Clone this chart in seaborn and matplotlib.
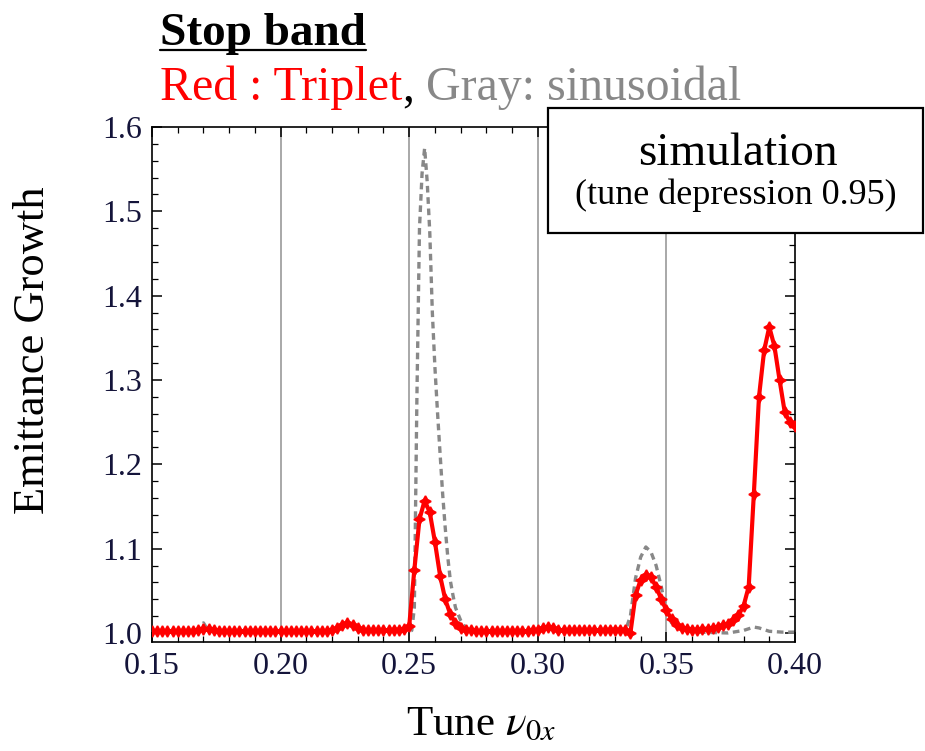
import numpy as np
import pandas as pd
import matplotlib
matplotlib.use('Agg')
import matplotlib.pyplot as plt
from matplotlib.lines import Line2D
from matplotlib.patches import Rectangle
from matplotlib.ticker import MultipleLocator, FormatStrFormatter
import seaborn as sns

# Triplet (red) - emittance growth sampled every 0.002 in tune
red_x = np.round(np.linspace(0.15, 0.40, 126), 3)
red_y = [1.002, 1.002, 1.002, 1.002, 1.002, 1.002, 1.002, 1.002, 1.002, 1.003,
         1.005, 1.005, 1.003, 1.002, 1.002, 1.002, 1.002, 1.002, 1.002, 1.002,
         1.002, 1.002, 1.002, 1.002, 1.002, 1.002, 1.002, 1.002, 1.002, 1.002,
         1.002, 1.002, 1.002, 1.002, 1.002, 1.003, 1.006, 1.010, 1.012, 1.009,
         1.006, 1.004, 1.003, 1.003, 1.003, 1.003, 1.003, 1.004, 1.004, 1.005,
         1.008, 1.075, 1.135, 1.157, 1.143, 1.108, 1.068, 1.040, 1.022, 1.012,
         1.006, 1.004, 1.003, 1.002, 1.002, 1.002, 1.002, 1.002, 1.002, 1.002,
         1.002, 1.002, 1.002, 1.002, 1.003, 1.004, 1.006, 1.007, 1.006, 1.004,
         1.003, 1.003, 1.003, 1.003, 1.003, 1.003, 1.003, 1.003, 1.003, 1.004,
         1.004, 1.004, 1.004, 1.000, 1.045, 1.063, 1.069, 1.066, 1.055, 1.040,
         1.027, 1.016, 1.010, 1.006, 1.005, 1.004, 1.004, 1.005, 1.005, 1.006,
         1.007, 1.009, 1.011, 1.015, 1.021, 1.032, 1.055, 1.165, 1.280, 1.335,
         1.363, 1.340, 1.300, 1.262, 1.250, 1.245]

# sinusoidal (gray dashed)
gray_x = [0.150, 0.160, 0.168, 0.170, 0.172, 0.180, 0.200, 0.220, 0.224, 0.226,
          0.228, 0.232, 0.240, 0.250, 0.251, 0.252, 0.253, 0.254, 0.255, 0.256,
          0.257, 0.258, 0.259, 0.260, 0.261, 0.262, 0.263, 0.264, 0.265, 0.266,
          0.267, 0.268, 0.270, 0.272, 0.276, 0.300, 0.304, 0.308, 0.320, 0.334,
          0.336, 0.338, 0.340, 0.342, 0.344, 0.346, 0.348, 0.350, 0.352, 0.356,
          0.362, 0.374, 0.380, 0.384, 0.386, 0.390, 0.395, 0.400]
gray_y = [1.001, 1.001, 1.001, 1.012, 1.002, 1.001, 1.001, 1.002, 1.008, 1.010,
          1.008, 1.003, 1.002, 1.002, 1.003, 1.030, 1.280, 1.480, 1.545, 1.575,
          1.535, 1.475, 1.380, 1.315, 1.262, 1.213, 1.165, 1.125, 1.090, 1.062,
          1.045, 1.030, 1.015, 1.006, 1.002, 1.002, 1.006, 1.003, 1.002, 1.002,
          1.020, 1.065, 1.090, 1.102, 1.096, 1.080, 1.055, 1.025, 1.012, 1.005,
          1.001, 1.000, 1.003, 1.007, 1.006, 1.002, 1.001, 1.001]

grid_x = [0.20, 0.25, 0.30, 0.35]

red_df = pd.DataFrame({'tune': red_x, 'growth': red_y})
gray_df = pd.DataFrame({'tune': gray_x, 'growth': gray_y})

sns.set_theme(style='ticks')
plt.rcParams['font.family'] = ['Liberation Serif', 'DejaVu Serif']
plt.rcParams['mathtext.fontset'] = 'stix'

fig = plt.figure(figsize=(9.25, 7.51), dpi=100)
ax = fig.add_axes([152/925, 1-642/751, 643/925, 515/751])

for gx in grid_x:
    ax.axvline(gx, color='#999999', lw=1.2, zorder=0)

sns.lineplot(data=gray_df, x='tune', y='growth', ax=ax, color='#888888', lw=2.4,
             linestyle=(0, (2, 1.4)), estimator=None, sort=False, zorder=2)
sns.lineplot(data=red_df, x='tune', y='growth', ax=ax, color='red', lw=3,
             marker=(4, 1, 0), markersize=8, markeredgecolor='red',
             markeredgewidth=1.2, estimator=None, sort=False, zorder=3)

ax.set_xlim(0.15, 0.40)
ax.set_ylim(0.9893, 1.6)
ax.xaxis.set_major_locator(MultipleLocator(0.05))
ax.xaxis.set_minor_locator(MultipleLocator(0.01))
ax.yaxis.set_major_locator(MultipleLocator(0.1))
ax.yaxis.set_minor_locator(MultipleLocator(0.02))
ax.xaxis.set_major_formatter(FormatStrFormatter('%.2f'))
ax.yaxis.set_major_formatter(FormatStrFormatter('%.1f'))
ax.tick_params(which='both', direction='in', top=True, right=True, color='black',
               labelsize=23, labelcolor='#14143a', pad=7)
ax.tick_params(which='major', length=7, width=1.1)
ax.tick_params(which='minor', length=4, width=0.9)
for sp in ax.spines.values():
    sp.set_color('black')
    sp.set_linewidth(1.2)

ax.set_xlabel('')
ax.set_ylabel('')
fig.text(33/925, 1-350/751, 'Emittance Growth', rotation=90, ha='center',
         va='center', fontsize=32, color='black')
fig.text(481/925, 1-735/751, r'Tune $\nu_{0x}$', ha='center', va='baseline',
         fontsize=31, color='black')

# heading lines
t1 = fig.text(160/925, 1-45/751, 'Stop band', fontsize=34, weight='bold',
              va='baseline', color='black')
p1 = fig.text(160/925, 1-100/751, 'Red : Triplet', fontsize=34.5, color='red',
              va='baseline')
p2 = ax.annotate(',', xycoords=p1, xy=(1, 0), va='bottom', fontsize=34.5,
                 color='black', annotation_clip=False)
p3 = ax.annotate(' Gray: sinusoidal', xycoords=p2, xy=(1, 0), va='bottom',
                 fontsize=34.5, color='#888888', annotation_clip=False)

fig.canvas.draw()
bb = t1.get_window_extent(fig.canvas.get_renderer()).transformed(fig.transFigure.inverted())
fig.add_artist(Line2D([bb.x0, bb.x1], [1-50/751, 1-50/751], color='black', lw=1.6,
                      transform=fig.transFigure))

# simulation box
box = Rectangle((548/925, 1-233/751), 375/925, 125/751, transform=fig.transFigure,
                facecolor='white', edgecolor='black', lw=1.6, zorder=10)
fig.add_artist(box)
fig.text(738/925, 1-165/751, 'simulation', fontsize=34, ha='center',
         va='baseline', color='black', zorder=11)
fig.text(736/925, 1-204/751, '(tune depression 0.95)', fontsize=26, ha='center',
         va='baseline', color='black', zorder=11)

fig.savefig('out.png', dpi=100)
